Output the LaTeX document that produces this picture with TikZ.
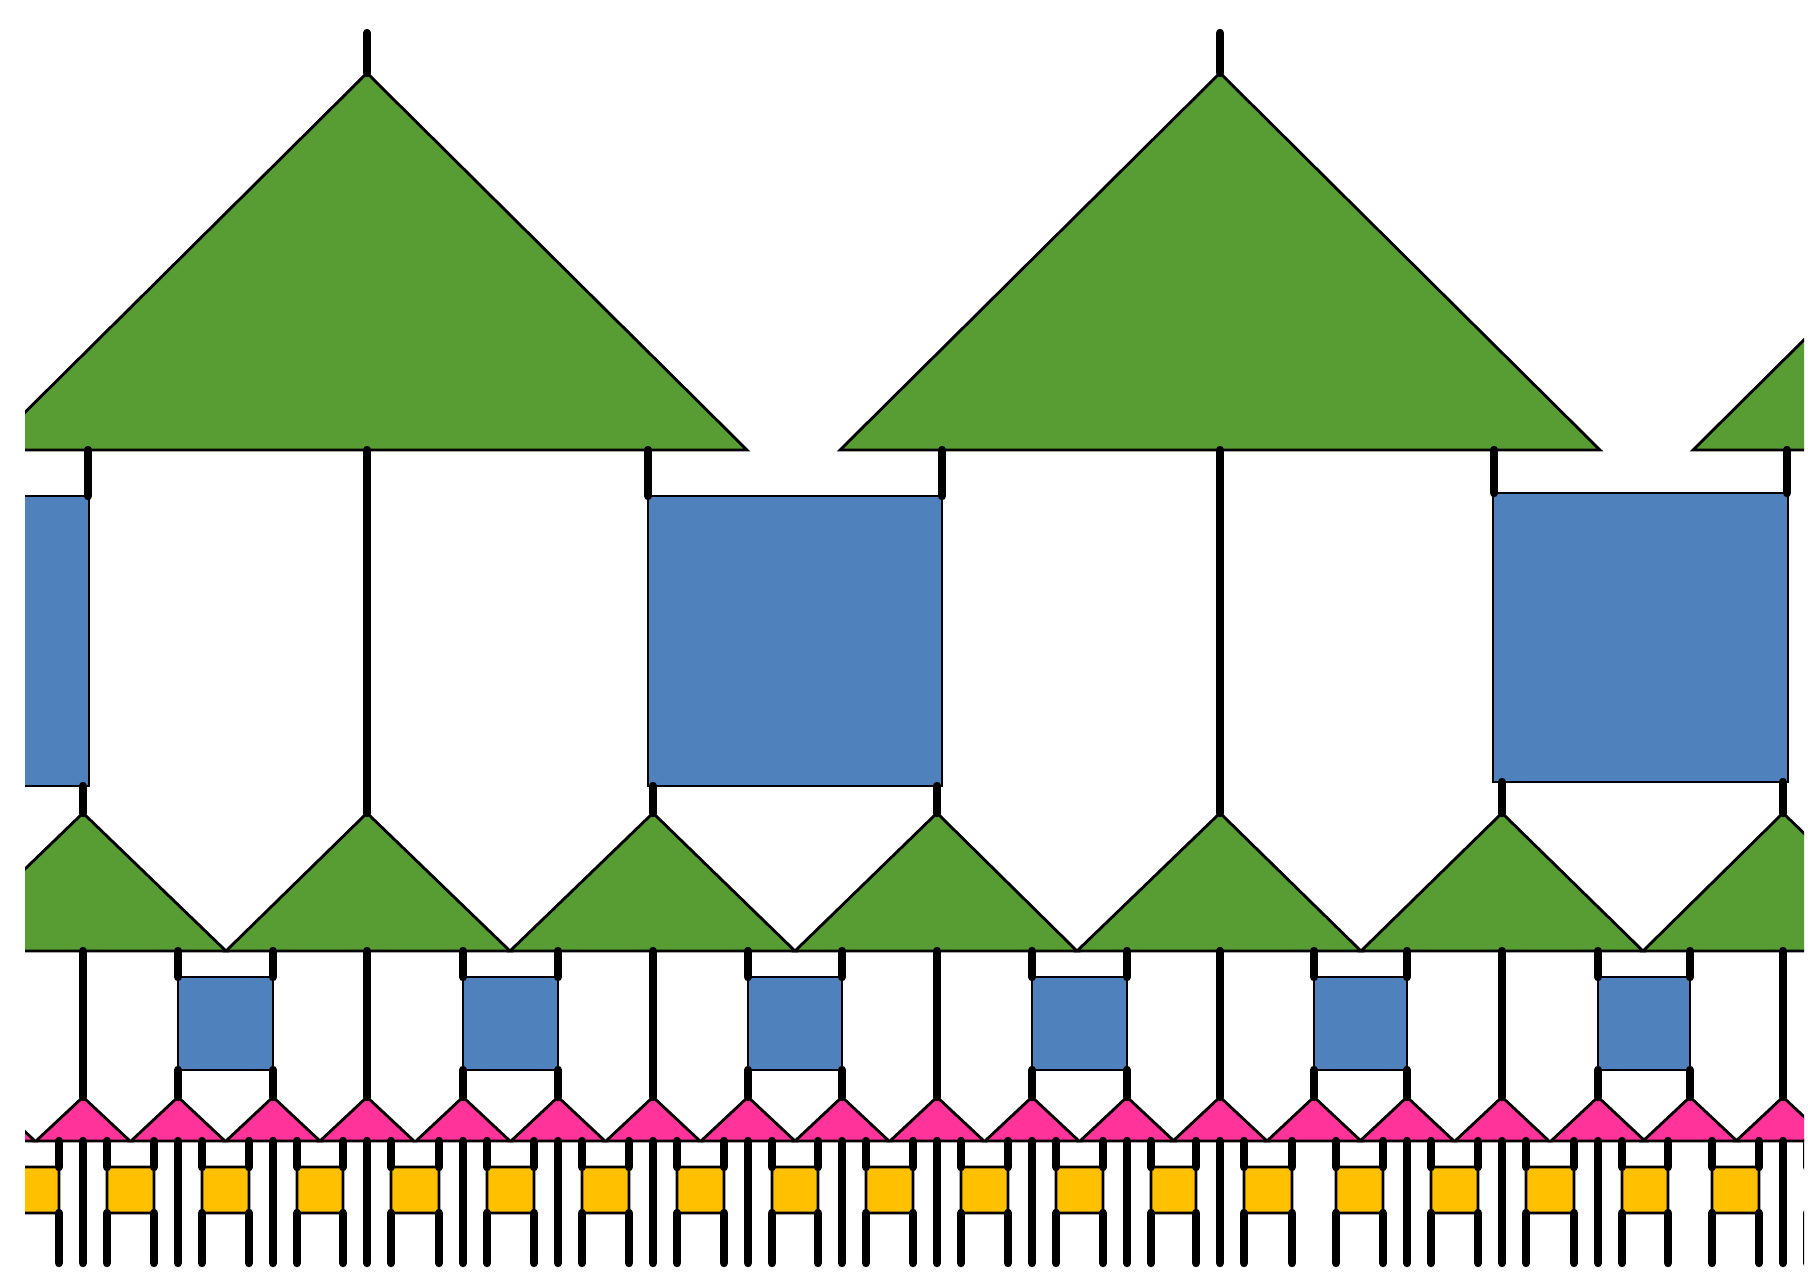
\documentclass[tikz,border=0pt]{standalone}
\definecolor{isogreen}{RGB}{88,157,51}
\definecolor{disblue}{RGB}{79,129,189}
\definecolor{isopink}{RGB}{255,51,153}
\definecolor{disyellow}{RGB}{255,192,0}
\tikzset{
  wire/.style={line width=2.4pt, line cap=round},
  tensor/.style={draw=black, line width=0.8pt, line join=miter},
  greeniso/.style={tensor, fill=isogreen},
  bluedis/.style={tensor, fill=disblue},
  pinkiso/.style={tensor, fill=isopink},
  yellowdis/.style={tensor, fill=disyellow, rounded corners=0.6pt},
}
% bottom isometries: apex x / leg offset / has middle leg
\def\pinklist{-12/24/1, 83/24/1, 178/24/1, 273/24/1, 367/24/1, 463/24/1,
  558/24/1, 653/24/1, 748/24/1, 842/24/1, 937/24/1, 1032/24/1, 1127/24/1,
  1220/24/1, 1314/22/0, 1407/24/1, 1502/24/1, 1598/24/1, 1690/22/0, 1783/24/1}
\begin{document}
\begin{tikzpicture}[x=0.01cm, y=-0.01cm]
\useasboundingbox (0,0) rectangle (1808,1284);
\begin{scope}
\clip (25,0) rectangle (1804,1284);

% ---------- top layer: large isometries
\foreach \n/\x in {A/367, B/1220, C/2073} {
  \coordinate (T\n) at (\x,73);
  \coordinate (U\n) at (\x,33);
  \coordinate (H\n) at (\x,450);
  \draw[greeniso] ({\x-380},450) -- (T\n) -- ({\x+380},450) -- cycle;
}

% ---------- top layer: large disentanglers
\coordinate (Q1nw) at (-100,496);  \coordinate (Q1se) at (89,786);
\coordinate (Q2nw) at (648,496);   \coordinate (Q2se) at (942,786);
\coordinate (Q3nw) at (1493,493);  \coordinate (Q3se) at (1788,782);
\draw[bluedis] (Q1nw) rectangle (Q1se);
\draw[bluedis] (Q2nw) rectangle (Q2se);
\draw[bluedis] (Q3nw) rectangle (Q3se);

% legs between the large isometries and the large disentanglers
\foreach \i/\x/\y in {1/88/496, 2/648/496, 3/942/496, 4/1494/493, 5/1787/493} {
  \coordinate (E\i) at (\x,450);
  \coordinate (F\i) at (\x,\y);
}
\foreach \i/\x/\y in {1/83/786, 3/653/786, 4/937/786, 6/1502/782, 7/1783/782} {
  \coordinate (V\i) at (\x,\y);
}

% ---------- middle layer: isometries
\foreach \j/\x/\l/\r in {1/83/-60/226, 2/367/226/510, 3/653/510/795,
    4/937/795/1077, 5/1220/1077/1361, 6/1502/1361/1643, 7/1783/1643/1926} {
  \coordinate (M\j) at (\x,813);
  \coordinate (N\j) at (\x,951);
  \draw[greeniso] (\l,951) -- (M\j) -- (\r,951) -- cycle;
}

% ---------- bottom layer: isometries
\foreach \x/\d/\c [count=\k] in \pinklist {
  \coordinate (P\k) at (\x,1097);
  \coordinate (K\k) at (\x,951);
  \coordinate (Ku\k) at (\x,977);
  \coordinate (Kd\k) at (\x,1070);
  \coordinate (Ca\k) at (\x,1141);
  \coordinate (Cz\k) at (\x,1263);
  \coordinate (La\k) at ({\x-\d},1141);
  \coordinate (Lt\k) at ({\x-\d},1167);
  \coordinate (Lb\k) at ({\x-\d},1213);
  \coordinate (Lz\k) at ({\x-\d},1263);
  \coordinate (Ra\k) at ({\x+\d},1141);
  \coordinate (Rt\k) at ({\x+\d},1167);
  \coordinate (Rb\k) at ({\x+\d},1213);
  \coordinate (Rz\k) at ({\x+\d},1263);
  \draw[pinkiso] ({\x-47},1141) -- (P\k) -- ({\x+47},1141) -- cycle;
}

% middle layer: disentanglers
\foreach \a/\b in {3/4, 6/7, 9/10, 12/13, 15/16, 18/19} {
  \draw[bluedis] (Ku\a) rectangle (Kd\b);
}

% bottom layer: disentanglers
\foreach \k [evaluate=\k as \j using int(\k+1)] in {1,...,19} {
  \draw[yellowdis] (Rt\k) rectangle (Lb\j);
}

% ---------- wires
\foreach \n in {A,B,C} \draw[wire] (U\n) -- (T\n);
\foreach \i in {1,...,5} \draw[wire] (E\i) -- (F\i);
\draw[wire] (HA) -- (M2);
\draw[wire] (HB) -- (M5);
\foreach \i in {1,3,4,6,7} \draw[wire] (V\i) -- (M\i);

\foreach \j/\k in {1/2, 2/5, 3/8, 4/11, 5/14, 6/17, 7/20} {
  \draw[wire] (N\j) -- (P\k);
}
\foreach \a/\b in {3/4, 6/7, 9/10, 12/13, 15/16, 18/19} {
  \draw[wire] (K\a) -- (Ku\a);
  \draw[wire] (K\b) -- (Ku\b);
  \draw[wire] (Kd\a) -- (P\a);
  \draw[wire] (Kd\b) -- (P\b);
}

\foreach \x/\d/\c [count=\k] in \pinklist {
  \draw[wire] (La\k) -- (Lt\k);
  \draw[wire] (Lb\k) -- (Lz\k);
  \draw[wire] (Ra\k) -- (Rt\k);
  \draw[wire] (Rb\k) -- (Rz\k);
  \ifnum\c=1 \draw[wire] (Ca\k) -- (Cz\k); \fi
}
\end{scope}
\end{tikzpicture}
\end{document}
